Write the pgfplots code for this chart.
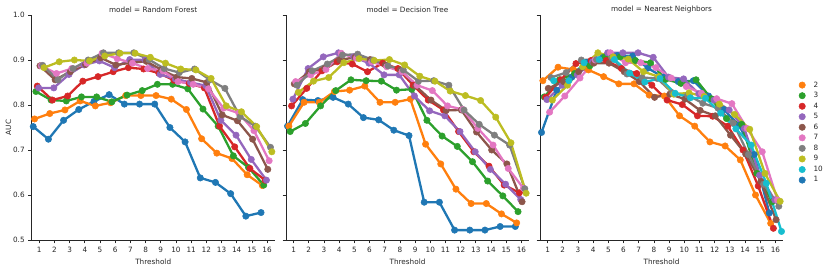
\documentclass[border=0pt]{standalone}
\usepackage{pgfplots}
\pgfplotsset{compat=1.18}
\usepackage{pgfplotstable}
\usepackage{fontspec}
\setmainfont{DejaVu Sans}
\definecolor{c1}{HTML}{1F77B4}
\definecolor{c2}{HTML}{FF7F0E}
\definecolor{c3}{HTML}{2CA02C}
\definecolor{c4}{HTML}{D62728}
\definecolor{c5}{HTML}{9467BD}
\definecolor{c6}{HTML}{8C564B}
\definecolor{c7}{HTML}{E377C2}
\definecolor{c8}{HTML}{7F7F7F}
\definecolor{c9}{HTML}{BCBD22}
\definecolor{c10}{HTML}{17BECF}
\definecolor{ink}{HTML}{262626}

\pgfplotstableread{
t  s1    s2    s3    s4    s5    s6    s7    s8    s9
1  0.752 0.769 0.830 0.842 0.838 0.887 0.887 0.888 0.883
2  0.724 0.781 0.811 0.811 0.838 0.856 0.870 0.856 0.896
3  0.766 0.789 0.809 0.820 0.868 0.874 0.881 0.881 0.900
4  0.790 0.809 0.818 0.853 0.889 0.890 0.893 0.900 0.898
5  0.808 0.798 0.818 0.863 0.898 0.905 0.915 0.916 0.909
6  0.823 0.805 0.807 0.874 0.883 0.889 0.903 0.916 0.915
7  0.802 0.821 0.822 0.883 0.901 0.894 0.893 0.916 0.915
8  0.802 0.821 0.832 0.880 0.900 0.897 0.881 0.901 0.906
9  0.802 0.821 0.846 0.871 0.868 0.878 0.876 0.881 0.893
10 0.750 0.813 0.846 0.855 0.858 0.862 0.852 0.872 0.880
11 0.718 0.790 0.836 0.848 0.850 0.859 0.846 0.880 0.878
12 0.638 0.725 0.791 0.838 0.843 0.850 0.836 0.856 0.859
13 0.628 0.693 0.753 0.753 0.766 0.778 0.793 0.837 0.798
14 0.603 0.681 0.687 0.707 0.733 0.765 0.782 0.774 0.785
15 0.553 0.645 0.661 0.659 0.679 0.724 0.743 0.753 0.752
16 0.561 0.621 0.622 0.633 0.633 0.657 0.676 0.706 0.696
}\rf

\pgfplotstableread{
t  s1    s2    s3    s4    s5    s6    s7    s8    s9
1  0.753 0.753 0.741 0.798 0.813 0.847 0.852 0.844 0.828
2  0.812 0.806 0.759 0.837 0.881 0.874 0.867 0.876 0.853
3  0.810 0.806 0.798 0.876 0.907 0.881 0.879 0.891 0.861
4  0.817 0.830 0.832 0.896 0.916 0.900 0.915 0.911 0.894
5  0.802 0.833 0.856 0.891 0.907 0.906 0.904 0.913 0.903
6  0.772 0.842 0.854 0.874 0.893 0.901 0.896 0.900 0.899
7  0.767 0.806 0.853 0.893 0.867 0.889 0.885 0.887 0.901
8  0.744 0.806 0.833 0.881 0.867 0.878 0.874 0.878 0.889
9  0.732 0.813 0.835 0.844 0.820 0.842 0.844 0.853 0.864
10 0.584 0.713 0.766 0.811 0.787 0.811 0.832 0.854 0.853
11 0.584 0.669 0.731 0.789 0.776 0.788 0.798 0.844 0.831
12 0.522 0.613 0.708 0.741 0.741 0.789 0.790 0.789 0.821
13 0.522 0.581 0.674 0.696 0.696 0.740 0.748 0.757 0.810
14 0.522 0.581 0.631 0.664 0.657 0.700 0.711 0.733 0.773
15 0.530 0.558 0.598 0.622 0.624 0.669 0.659 0.711 0.716
16 0.530 0.538 0.563 0.605 0.590 0.585 0.615 0.614 0.604
}\dt

\pgfplotstableread{
t  s1    s2    s3    s4    s5    s6    s7    s8    s9    s10
1  0.739 0.854 0.818 0.817 0.812 0.837 0.784 0.861 0.811 0.854
2  0.833 0.884 0.856 0.856 0.844 0.852 0.820 0.872 0.844 0.854
3  0.862 0.879 0.870 0.892 0.867 0.874 0.860 0.900 0.885 0.894
4  0.895 0.878 0.887 0.899 0.896 0.893 0.900 0.901 0.916 0.901
5  0.905 0.863 0.907 0.899 0.916 0.893 0.916 0.905 0.907 0.901
6  0.910 0.847 0.907 0.881 0.916 0.874 0.894 0.869 0.902 0.871
7  0.909 0.847 0.899 0.870 0.916 0.852 0.894 0.861 0.874 0.851
8  0.882 0.822 0.894 0.844 0.906 0.817 0.883 0.859 0.863 0.859
9  0.862 0.820 0.857 0.811 0.862 0.824 0.860 0.827 0.824 0.826
10 0.852 0.776 0.848 0.801 0.858 0.813 0.841 0.822 0.827 0.816
11 0.854 0.753 0.856 0.776 0.825 0.788 0.826 0.804 0.819 0.815
12 0.820 0.718 0.814 0.775 0.811 0.776 0.814 0.793 0.802 0.782
13 0.790 0.709 0.770 0.753 0.789 0.733 0.803 0.760 0.779 0.747
14 0.755 0.678 0.757 0.700 0.748 0.691 0.748 0.690 0.746 0.711
15 0.690 0.600 0.648 0.620 0.644 0.630 0.696 0.624 0.648 0.626
16 0.560 0.537 0.585 0.526 0.589 0.545 0.589 0.575 0.586 0.519
}\nn

\pgfplotsset{
  facet/.style={
    scale only axis, width=243bp, height=225bp,
    anchor=south west,
    xmin=0.5, xmax=16.5, ymin=0.5, ymax=1.0,
    xtick={1,2,3,4,5,6,7,8,9,10,11,12,13,14,15,16},
    ytick={0.5,0.6,0.7,0.8,0.9,1.0},
    axis lines*=left,
    axis line style={ink, line width=0.8bp, -},
    tick align=outside,
    major tick length=3.5bp,
    tick style={ink, line width=0.8bp},
    tick label style={font=\fontsize{7.3}{8}\selectfont, text=ink},
    label style={font=\fontsize{7.3}{8}\selectfont, text=ink},
    title style={font=\fontsize{7.3}{8}\selectfont, text=ink, at={(0.5,1)}, anchor=south, yshift=-7.5bp},
    /pgf/number format/assume math mode=true,
    yticklabel style={/pgf/number format/fixed, /pgf/number format/precision=1, /pgf/number format/fixed zerofill},
    xlabel={Threshold},
    xlabel style={yshift=0bp},
    legend image code/.code={\draw[##1, draw=none] plot coordinates {(0.12cm,0cm)};},
  },
  s/.style={color=#1, line width=2.3bp, mark=*, mark size=3.2bp, mark options={solid, fill=#1, draw=#1, line width=0.5bp}},
}

\begin{document}
\begin{tikzpicture}
\path[use as bounding box] (0,0) rectangle (830bp,268bp);

\begin{axis}[facet, at={(31.7bp,28bp)}, title={model = Random Forest}, ylabel={AUC}, ylabel style={yshift=-5bp}]
\addplot[s=c1] table[x expr=\thisrow{t}-0.4, y=s1]{\rf};
\addplot[s=c2] table[x expr=\thisrow{t}-0.3111, y=s2]{\rf};
\addplot[s=c3] table[x expr=\thisrow{t}-0.2222, y=s3]{\rf};
\addplot[s=c4] table[x expr=\thisrow{t}-0.1333, y=s4]{\rf};
\addplot[s=c5] table[x expr=\thisrow{t}-0.0444, y=s5]{\rf};
\addplot[s=c6] table[x expr=\thisrow{t}+0.0444, y=s6]{\rf};
\addplot[s=c7] table[x expr=\thisrow{t}+0.1333, y=s7]{\rf};
\addplot[s=c8] table[x expr=\thisrow{t}+0.2222, y=s8]{\rf};
\addplot[s=c9] table[x expr=\thisrow{t}+0.3111, y=s9]{\rf};
\end{axis}

\begin{axis}[facet, at={(286bp,28bp)}, title={model = Decision Tree}, yticklabels={}]
\addplot[s=c1] table[x expr=\thisrow{t}-0.4, y=s1]{\dt};
\addplot[s=c2] table[x expr=\thisrow{t}-0.3111, y=s2]{\dt};
\addplot[s=c3] table[x expr=\thisrow{t}-0.2222, y=s3]{\dt};
\addplot[s=c4] table[x expr=\thisrow{t}-0.1333, y=s4]{\dt};
\addplot[s=c5] table[x expr=\thisrow{t}-0.0444, y=s5]{\dt};
\addplot[s=c6] table[x expr=\thisrow{t}+0.0444, y=s6]{\dt};
\addplot[s=c7] table[x expr=\thisrow{t}+0.1333, y=s7]{\dt};
\addplot[s=c8] table[x expr=\thisrow{t}+0.2222, y=s8]{\dt};
\addplot[s=c9] table[x expr=\thisrow{t}+0.3111, y=s9]{\dt};
\end{axis}

\begin{axis}[facet, at={(540bp,28bp)}, title={model = Nearest Neighbors}, yticklabels={},
  legend cell align=left,
  legend style={draw=none, fill=none, at={(1.065,0.71)}, anchor=north west,
    font=\fontsize{7.3}{8}\selectfont, text=ink, row sep=1.3bp, inner sep=0pt,
    nodes={inner sep=1.2bp},
    /tikz/every odd column/.append style={column sep=7bp}}]
\addplot[s=c1, forget plot] table[x expr=\thisrow{t}-0.4, y=s1]{\nn};
\addplot[s=c2] table[x expr=\thisrow{t}-0.3111, y=s2]{\nn};
\addlegendentry{2}
\addplot[s=c3] table[x expr=\thisrow{t}-0.2222, y=s3]{\nn};
\addlegendentry{3}
\addplot[s=c4] table[x expr=\thisrow{t}-0.1333, y=s4]{\nn};
\addlegendentry{4}
\addplot[s=c5] table[x expr=\thisrow{t}-0.0444, y=s5]{\nn};
\addlegendentry{5}
\addplot[s=c6] table[x expr=\thisrow{t}+0.0444, y=s6]{\nn};
\addlegendentry{6}
\addplot[s=c7] table[x expr=\thisrow{t}+0.1333, y=s7]{\nn};
\addlegendentry{7}
\addplot[s=c8] table[x expr=\thisrow{t}+0.2222, y=s8]{\nn};
\addlegendentry{8}
\addplot[s=c9] table[x expr=\thisrow{t}+0.3111, y=s9]{\nn};
\addlegendentry{9}
\addplot[s=c10] table[x expr=\thisrow{t}+0.4, y=s10]{\nn};
\addlegendentry{10}
\addlegendimage{s=c1}
\addlegendentry{1}
\end{axis}
\end{tikzpicture}
\end{document}
